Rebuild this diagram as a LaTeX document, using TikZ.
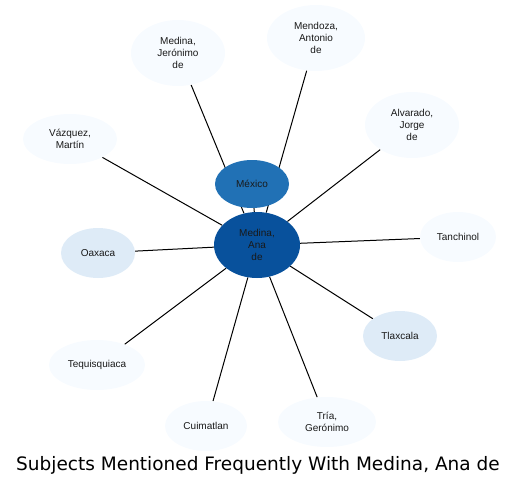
\documentclass[tikz,border=0pt]{standalone}
\usepackage{fontspec}
\setmainfont{Liberation Sans}
\newfontfamily\titlefont{DejaVu Sans}
\usetikzlibrary{shapes.geometric,backgrounds}
\definecolor{paleblue}{HTML}{F7FBFF}
\definecolor{lightblue}{HTML}{DEEBF7}
\definecolor{midblue}{HTML}{2171B5}
\definecolor{darkblue}{HTML}{08519C}
\tikzset{
  bub/.style={ellipse,inner sep=0pt,align=center,text=black!90,
    font=\fontsize{10}{12}\selectfont},
  link/.style={line width=1pt}
}
\begin{document}
\begin{tikzpicture}[x=1pt,y=-1pt]
      \useasboundingbox (0,0) rectangle (521,487);
      \node[bub,fill=darkblue,minimum width=86pt,minimum height=66pt] (ana) at (257,245) {Medina,\\Ana\\de};
      \node[bub,fill=midblue,minimum width=74pt,minimum height=48pt] (mexico) at (252,184) {México};
      \node[bub,fill=paleblue,minimum width=94pt,minimum height=66pt] (jeronimo) at (178,53) {Medina,\\Jerónimo\\de};
      \node[bub,fill=paleblue,minimum width=98pt,minimum height=66pt] (mendoza) at (316,38) {Mendoza,\\Antonio\\de};
      \node[bub,fill=paleblue,minimum width=94pt,minimum height=66pt] (alvarado) at (412,125) {Alvarado,\\Jorge\\de};
      \node[bub,fill=paleblue,minimum width=94pt,minimum height=50pt] (vazquez) at (70,139) {Vázquez,\\Martín};
      \node[bub,fill=lightblue,minimum width=74pt,minimum height=50pt] (oaxaca) at (98,253) {Oaxaca};
      \node[bub,fill=paleblue,minimum width=76pt,minimum height=50pt] (tanchinol) at (458,237) {Tanchinol};
      \node[bub,fill=lightblue,minimum width=74pt,minimum height=50pt] (tlaxcala) at (400,336) {Tlaxcala};
      \node[bub,fill=paleblue,minimum width=96pt,minimum height=50pt] (tequis) at (97,365) {Tequisquiaca};
      \node[bub,fill=paleblue,minimum width=82pt,minimum height=50pt] (cuimatlan) at (206,426) {Cuimatlan};
      \node[bub,fill=paleblue,minimum width=98pt,minimum height=50pt] (tria) at (327,422) {Tría,\\Gerónimo};
      \node[font=\titlefont\fontsize{18.5}{22}\selectfont] (title) at (258,465) {Subjects Mentioned Frequently With Medina, Ana de};
      \begin{scope}[on background layer]
        \foreach \n in {mexico,jeronimo,mendoza,alvarado,vazquez,oaxaca,tanchinol,tlaxcala,tequis,cuimatlan,tria}
          \draw[link] (ana) -- (\n);
      \end{scope}
    \end{tikzpicture}
\end{document}
